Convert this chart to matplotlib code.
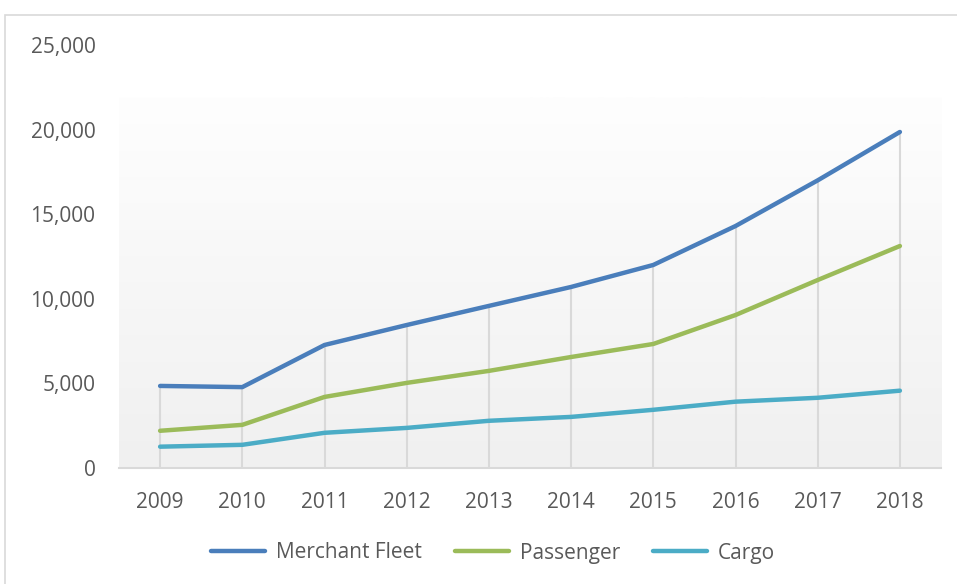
import matplotlib.pyplot as plt
import numpy as np
from matplotlib.patches import Rectangle

years = ['2009', '2010', '2011', '2012', '2013', '2014', '2015', '2016', '2017', '2018']
merchant_fleet = [4850, 4780, 7270, 8450, 9580, 10700, 12000, 14300, 17000, 19860]
passenger = [2200, 2550, 4200, 5030, 5740, 6560, 7330, 9040, 11110, 13120]
cargo = [1260, 1370, 2080, 2370, 2790, 3020, 3440, 3920, 4150, 4570]
y_ticks = [0, 5000, 10000, 15000, 20000, 25000]

plt.rcParams['font.family'] = ['Open Sans', 'DejaVu Sans']
W, H = 957, 584
fig = plt.figure(figsize=(W / 100, H / 100), dpi=100)

# outer chart border
fig.patches.append(Rectangle((5 / W, -0.1), 1.2, 1 - 15 / H + 0.1, transform=fig.transFigure,
                             fill=False, edgecolor='#d9d9d9', linewidth=1.2))

ax = fig.add_axes([119 / W, 1 - 468 / H, (941 - 119) / W, (468 - 45) / H])
ax.set_facecolor('none')

x = np.arange(len(years))
# plot area gradient
grad = np.linspace(1, 0, 256).reshape(-1, 1)
ax.imshow(grad, cmap=plt.matplotlib.colors.LinearSegmentedColormap.from_list('g', ['#f0f0f0', '#fefefe']),
          extent=[0, 1, 0, (468 - 97) / 423], transform=ax.transAxes, aspect='auto', zorder=0)

# drop lines
tops = np.max([merchant_fleet, passenger, cargo], axis=0)
ax.vlines(x, 0, tops, colors='#d9d9d9', linewidth=1.5, zorder=1)

series = [('Merchant Fleet', merchant_fleet, '#4a7ebb'),
          ('Passenger', passenger, '#9bbb59'),
          ('Cargo', cargo, '#4bacc6')]
for name, vals, col in series:
    ax.plot(x, vals, color=col, linewidth=3.2, solid_capstyle='round',
            solid_joinstyle='round', label=name, zorder=3)

ax.set_xlim(-0.5, len(years) - 0.5)
ax.set_ylim(0, 25000)
ax.set_xticks(x)
ax.set_xticklabels(years)
ax.set_yticks(y_ticks)
ax.set_yticklabels([f'{v:,}' for v in y_ticks])
ax.tick_params(axis='both', length=0, labelsize=15, colors='#595959')
ax.tick_params(axis='y', pad=17)
ax.tick_params(axis='x', pad=17)
for s in ['top', 'left', 'right']:
    ax.spines[s].set_visible(False)
ax.spines['bottom'].set_color('#d9d9d9')
ax.spines['bottom'].set_linewidth(1.5)

leg = fig.legend(loc='center', bbox_to_anchor=(493 / W, 1 - 553 / H), ncol=3, frameon=False,
                 fontsize=15, handlelength=2.6, handletextpad=0.5, columnspacing=1.6)
for t in leg.get_texts():
    t.set_color('#595959')

fig.savefig('out.png', dpi=100)
